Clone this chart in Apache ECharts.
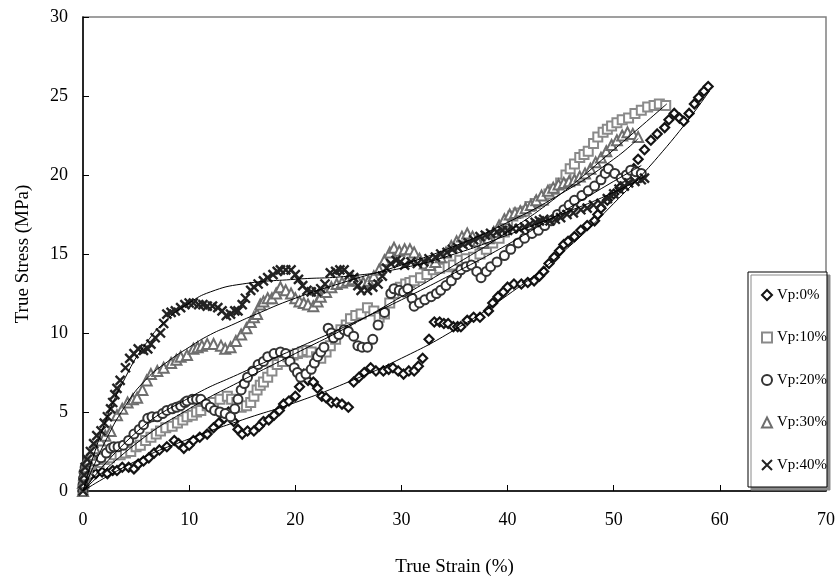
<!DOCTYPE html>
<html>
<head>
<meta charset="utf-8">
<script src="https://cdn.jsdelivr.net/npm/echarts@6/dist/echarts.min.js"></script>
<style>
html,body{margin:0;padding:0;background:#fff;}
#c{width:840px;height:581px;}
</style>
</head>
<body>
<div id="c"></div>
<script>
var seriesNames = ['Vp:0%', 'Vp:10%', 'Vp:20%', 'Vp:30%', 'Vp:40%'];
var xTicks = [0, 10, 20, 30, 40, 50, 60, 70];
var yTicks = [0, 5, 10, 15, 20, 25, 30];

var vp0 = [[0,0],[0.1,0.3],[0.2,0.6],[0.4,0.9],[0.7,1.0],[1.2,1.1],[1.8,1.2],[2.3,1.1],[2.8,1.3],[3.2,1.3],[3.7,1.5],[4.3,1.5],[4.8,1.4],[5.2,1.7],[5.7,1.9],[6.2,2.1],[6.7,2.4],[7.2,2.6],[7.9,2.8],[8.6,3.2],[9.0,3.0],[9.5,2.7],[10.0,2.9],[10.4,3.2],[11.0,3.4],[11.7,3.6],[12.3,4.0],[12.8,4.3],[13.3,4.6],[13.7,5.0],[14.2,4.4],[14.6,3.9],[15.0,3.6],[15.5,3.8],[16.1,3.8],[16.6,4.1],[17.0,4.4],[17.5,4.5],[18.0,4.8],[18.5,5.1],[18.9,5.5],[19.4,5.7],[20.0,6.0],[20.4,6.6],[20.8,7.4],[21.2,7.0],[21.7,6.9],[22.1,6.5],[22.5,6.0],[22.9,5.9],[23.4,5.6],[23.9,5.6],[24.4,5.5],[25.0,5.3],[25.5,6.9],[26.0,7.2],[26.5,7.5],[27.1,7.8],[27.6,7.6],[28.3,7.6],[28.8,7.7],[29.2,7.8],[29.7,7.6],[30.2,7.4],[30.7,7.6],[31.2,7.6],[31.6,7.9],[32.0,8.4],[32.6,9.6],[33.1,10.7],[33.6,10.7],[34.0,10.6],[34.4,10.6],[34.9,10.4],[35.3,10.4],[35.6,10.4],[36.2,10.8],[36.8,11.0],[37.4,11.0],[38.2,11.4],[38.6,11.9],[39.1,12.3],[39.6,12.6],[40.0,12.9],[40.6,13.1],[41.3,13.1],[41.9,13.2],[42.5,13.3],[43.0,13.6],[43.4,13.9],[43.9,14.4],[44.4,14.8],[44.9,15.2],[45.3,15.6],[45.7,15.8],[46.3,16.1],[46.9,16.5],[47.5,16.8],[48.2,17.1],[48.5,17.5],[48.8,17.9],[49.4,18.4],[50.0,18.8],[50.6,19.2],[51.0,19.5],[51.4,19.7],[51.9,20.4],[52.3,21.0],[52.9,21.6],[53.5,22.2],[54.1,22.6],[54.8,23.0],[55.2,23.5],[55.7,23.9],[56.2,23.6],[56.6,23.4],[57.1,23.9],[57.6,24.5],[58.0,24.9],[58.5,25.3],[58.9,25.6]];

var vp10 = [[0,0],[0.1,0.5],[0.2,1.0],[0.4,1.4],[0.7,1.7],[1.0,1.9],[1.5,1.8],[2.0,2.0],[2.5,2.1],[3.0,2.3],[3.5,2.3],[4.0,2.4],[4.5,2.5],[5.0,2.8],[5.4,2.9],[5.9,3.2],[6.4,3.4],[6.9,3.6],[7.3,3.8],[7.8,4.0],[8.4,4.1],[8.9,4.3],[9.4,4.5],[9.8,4.7],[10.3,4.8],[10.7,5.0],[11.1,5.1],[11.7,5.4],[12.3,5.6],[12.9,5.8],[13.6,6.0],[14.0,5.8],[14.5,5.6],[14.9,5.3],[15.4,5.4],[15.8,5.6],[16.1,6.0],[16.4,6.4],[16.7,6.7],[17.0,6.9],[17.4,7.2],[17.8,7.6],[18.3,8.0],[18.8,8.2],[19.3,8.5],[19.8,8.6],[20.2,8.7],[20.7,8.8],[21.1,8.9],[21.5,8.8],[22.0,8.5],[22.4,8.4],[22.9,8.8],[23.3,9.2],[23.8,9.6],[24.3,10.2],[24.8,10.5],[25.2,10.9],[25.7,11.1],[26.2,11.2],[26.8,11.6],[27.4,11.4],[27.9,11.0],[28.4,11.2],[28.9,11.9],[29.3,12.5],[29.9,12.9],[30.4,13.1],[30.8,13.2],[31.2,13.3],[31.8,13.5],[32.4,13.7],[33.0,14.0],[33.6,14.1],[34.4,14.2],[34.9,14.3],[35.5,14.6],[36.1,14.7],[36.8,14.8],[37.4,15.0],[38.0,15.3],[38.6,15.7],[39.2,16.0],[39.7,16.4],[40.0,17.0],[40.5,17.4],[41.0,17.6],[41.6,17.7],[42.1,18.0],[42.6,18.2],[43.0,18.3],[43.4,18.4],[43.9,18.8],[44.4,19.1],[45.0,19.5],[45.5,20.0],[45.9,20.4],[46.3,20.7],[46.8,21.1],[47.2,21.3],[47.6,21.5],[48.1,22.0],[48.5,22.4],[49.0,22.7],[49.4,22.9],[49.8,23.1],[50.3,23.3],[50.8,23.5],[51.4,23.6],[52.0,23.9],[52.6,24.1],[53.2,24.3],[53.8,24.4],[54.3,24.5],[54.9,24.4]];

var vp20 = [[0,0],[0,0.4],[0.05,0.8],[0.1,1.2],[0.2,1.5],[0.4,1.8],[0.8,2.0],[1.2,1.9],[1.7,2.1],[2.2,2.4],[2.6,2.7],[2.9,2.8],[3.3,2.8],[3.8,2.9],[4.3,3.2],[4.8,3.6],[5.3,3.9],[5.7,4.2],[6.1,4.6],[6.5,4.7],[7.0,4.7],[7.5,4.9],[7.9,5.1],[8.4,5.2],[8.8,5.3],[9.2,5.4],[9.6,5.6],[9.8,5.7],[10.3,5.8],[10.7,5.8],[11.1,5.8],[11.6,5.5],[12.0,5.3],[12.4,5.1],[12.9,5.0],[13.4,4.9],[13.9,4.7],[14.3,5.2],[14.6,5.8],[14.9,6.4],[15.2,6.8],[15.5,7.2],[16.0,7.6],[16.5,8.0],[17.0,8.2],[17.4,8.5],[18.0,8.7],[18.6,8.8],[19.1,8.7],[19.5,8.2],[19.9,7.8],[20.2,7.5],[20.5,7.2],[21.0,7.4],[21.5,7.7],[21.8,8.1],[22.1,8.5],[22.4,8.8],[22.7,9.1],[23.1,10.3],[23.4,10.0],[23.6,9.7],[24.1,9.9],[24.6,10.2],[25.0,10.1],[25.5,9.8],[25.9,9.2],[26.3,9.1],[26.8,9.1],[27.3,9.6],[27.8,10.5],[28.4,11.3],[29.0,12.5],[29.3,12.8],[29.8,12.7],[30.2,12.6],[30.6,12.8],[31.0,12.2],[31.2,11.7],[31.7,11.9],[32.2,12.1],[32.8,12.3],[33.3,12.5],[33.7,12.7],[34.2,13.0],[34.7,13.3],[35.2,13.7],[35.6,14.0],[36.1,14.2],[36.6,14.3],[37.1,13.9],[37.5,13.5],[38.0,13.9],[38.4,14.2],[39.0,14.5],[39.7,14.9],[40.3,15.3],[41.0,15.7],[41.6,16.0],[42.3,16.3],[42.9,16.5],[43.5,16.8],[44.1,17.1],[44.7,17.5],[45.3,17.8],[45.8,18.1],[46.3,18.4],[47.0,18.7],[47.6,19.0],[48.2,19.3],[48.8,19.7],[49.2,20.1],[49.5,20.4],[50.1,20.1],[50.7,19.8],[51.2,20.0],[51.6,20.3],[52.1,20.2],[52.6,20.1]];

var vp30 = [[0,0],[0,0.5],[0.1,1.0],[0.2,1.5],[0.4,2.0],[0.7,2.3],[1.1,2.7],[1.6,3.2],[2.1,3.5],[2.6,3.8],[3.2,4.8],[3.7,5.2],[4.2,5.6],[4.7,5.8],[5.1,5.9],[5.6,6.4],[6.0,7.0],[6.4,7.4],[7.0,7.6],[7.6,7.8],[8.3,8.1],[8.8,8.3],[9.2,8.5],[9.8,8.6],[10.4,9.0],[10.8,9.1],[11.2,9.2],[11.7,9.3],[12.3,9.3],[13.0,9.2],[13.4,9.0],[13.9,9.1],[14.4,9.5],[14.9,9.9],[15.4,10.3],[15.8,10.7],[16.1,11.0],[16.4,11.2],[16.7,11.8],[17.0,12.0],[17.4,12.2],[17.8,12.2],[18.2,12.5],[18.6,12.9],[19.1,12.7],[19.6,12.5],[20.0,12.2],[20.4,12.0],[20.8,11.9],[21.2,11.8],[21.7,11.7],[22.1,12.0],[22.4,12.3],[22.9,12.6],[23.4,12.9],[23.9,13.1],[24.4,13.2],[24.9,13.3],[25.4,13.4],[25.9,13.3],[26.4,13.2],[26.9,13.3],[27.4,13.6],[27.9,14.0],[28.4,14.6],[28.9,15.1],[29.3,15.4],[29.8,15.2],[30.3,15.3],[30.8,15.3],[31.2,15.1],[31.7,14.7],[32.2,14.4],[32.7,14.3],[33.2,14.5],[33.7,14.8],[34.2,15.1],[34.7,15.5],[35.2,15.8],[35.7,16.1],[36.2,16.3],[36.7,16.1],[37.2,15.8],[37.7,15.7],[38.2,16.0],[38.7,16.4],[39.2,16.8],[39.7,17.2],[40.2,17.5],[40.7,17.6],[41.2,17.7],[41.7,17.9],[42.2,18.1],[42.7,18.4],[43.2,18.7],[43.8,19.0],[44.3,19.2],[44.8,19.4],[45.3,19.5],[45.8,19.6],[46.3,19.7],[46.8,19.9],[47.3,20.1],[47.8,20.4],[48.3,20.8],[48.8,21.1],[49.3,21.5],[49.8,21.9],[50.3,22.2],[50.8,22.5],[51.3,22.7],[51.8,22.6],[52.3,22.4]];

var vp40 = [[0,0],[0.05,0.5],[0.1,1.0],[0.2,1.5],[0.4,2.0],[0.7,2.5],[1.0,3.0],[1.3,3.5],[1.7,3.8],[2.0,4.3],[2.3,4.7],[2.6,5.2],[2.8,5.6],[3.0,6.1],[3.2,6.5],[3.5,7.0],[4.0,7.8],[4.4,8.4],[4.8,8.7],[5.2,9.0],[5.7,8.9],[6.1,9.0],[6.4,9.3],[6.8,9.7],[7.3,10.0],[7.6,10.6],[7.9,11.2],[8.3,11.3],[8.7,11.4],[9.2,11.6],[9.6,11.8],[10.0,11.9],[10.4,11.9],[10.9,11.8],[11.3,11.8],[11.7,11.7],[12.2,11.7],[12.7,11.6],[13.1,11.4],[13.5,11.1],[13.9,11.2],[14.3,11.4],[14.6,11.4],[15.0,11.8],[15.3,12.2],[15.8,12.7],[16.1,12.9],[16.5,13.1],[17.0,13.3],[17.4,13.5],[17.9,13.7],[18.3,13.9],[18.6,14.0],[19.1,14.0],[19.6,14.0],[20.0,13.7],[20.3,13.4],[20.7,13.0],[21.1,12.7],[21.5,12.6],[22.0,12.6],[22.4,12.8],[22.8,13.1],[23.3,13.8],[23.8,13.9],[24.2,14.0],[24.6,14.0],[25.1,13.7],[25.5,13.5],[25.9,13.0],[26.2,12.7],[26.8,12.7],[27.3,12.9],[27.8,13.1],[28.2,13.6],[28.6,14.1],[29.0,14.4],[29.5,14.6],[29.9,14.5],[30.3,14.3],[30.9,14.5],[31.5,14.4],[32.1,14.5],[32.6,14.7],[33.2,14.8],[33.7,15.0],[34.3,15.1],[34.8,15.3],[35.3,15.4],[35.8,15.6],[36.3,15.7],[36.8,15.9],[37.4,16.1],[37.9,16.2],[38.4,16.3],[39.0,16.4],[39.5,16.5],[40.0,16.5],[40.5,16.6],[41.1,16.6],[41.6,16.7],[42.1,16.9],[42.6,17.0],[43.0,17.1],[43.4,17.2],[44.0,17.1],[44.5,17.2],[45.0,17.3],[45.6,17.5],[46.2,17.6],[46.9,17.8],[47.5,17.9],[48.1,18.1],[48.8,18.2],[49.4,18.5],[50.0,18.8],[50.5,19.1],[51.0,19.3],[51.4,19.5],[52.0,19.6],[52.6,19.7],[52.9,19.8]];

// trend lines
var trend0 = [[0,0],[5,1.9],[10,3.3],[15,4.5],[20,5.6],[25,6.9],[30,8.4],[35,10.2],[40,12.4],[45,15.0],[50,18.2],[55,21.8],[59,25.3]];
var trend10 = [[0,0],[5,3.0],[10,5.2],[15,7.0],[20,8.7],[25,10.4],[30,12.3],[35,14.3],[40,16.4],[45,18.8],[50,21.6],[55,24.5]];
var trend20 = [[0,0],[5,3.7],[10,5.9],[15,7.5],[20,9.0],[25,10.5],[30,12.1],[35,13.8],[40,15.6],[45,17.6],[50,19.6],[52.6,20.6]];
var trend30 = [[0,0],[2,3.0],[4,5.4],[6,7.1],[8,8.2],[10,9.1],[12,9.9],[14,10.5],[16,11.1],[20,12.2],[25,13.3],[30,14.3],[35,15.5],[40,17.0],[45,18.8],[50,21.0],[52.3,22.3]];
var trend40 = [[0,0],[2,4.2],[4,7.2],[6,9.4],[8,10.9],[10,11.9],[12,12.6],[15,13.1],[20,13.4],[25,13.6],[30,14.1],[35,15.0],[40,16.2],[45,17.5],[50,18.9],[52.9,19.9]];

var dataSets = [vp0, vp10, vp20, vp30, vp40];
var trends = [trend0, trend10, trend20, trend30, trend40];
var colors = ['#141414', '#8a8a8a', '#333333', '#6e6e6e', '#222222'];
var symbols = ['diamond', 'rect', 'circle', 'triangle', 'path://M0,0L10,10M10,0L0,10'];
var sizes = [9, 9, 9, 10, 9];
var bws = [2.2, 2, 2, 2, 2.4];

var FONT = '"Liberation Serif", "Times New Roman", serif';
var series = [];
for (var i = 0; i < 5; i++) {
  series.push({
    name: seriesNames[i],
    type: 'scatter',
    data: dataSets[i],
    symbol: symbols[i],
    symbolSize: sizes[i],
    itemStyle: { color: '#ffffff', borderColor: colors[i], borderWidth: bws[i], opacity: 1 },
    z: 2 + i,
    silent: true
  });
}
for (var j = 0; j < 5; j++) {
  series.push({
    type: 'line',
    data: trends[j],
    smooth: 0.5,
    showSymbol: false,
    symbol: 'none',
    lineStyle: { color: '#000', width: 1 },
    z: 10,
    silent: true
  });
}

var chart = echarts.init(document.getElementById('c'), null, { renderer: 'canvas' });
chart.setOption({
  animation: false,
  backgroundColor: '#ffffff',
  grid: { left: 83, right: 14, top: 17, bottom: 90, show: true, borderColor: '#808080', borderWidth: 1.5, containLabel: false, outerBoundsMode: 'none' },
  legend: {
    data: seriesNames,
    orient: 'vertical',
    left: 748, top: 272,
    padding: [15, 0, 14, 13],
    itemWidth: 10, itemHeight: 10, itemGap: 26.5,
    backgroundColor: '#ffffff',
    borderColor: '#000', borderWidth: 1,
    shadowColor: '#8a8a8a', shadowBlur: 0, shadowOffsetX: 3, shadowOffsetY: 3,
    textStyle: { fontFamily: FONT, fontSize: 15, color: '#000', lineHeight: 16 },
    selectedMode: false
  },
  xAxis: {
    type: 'value', min: 0, max: 70, interval: 10,
    name: 'True Strain (%)', nameLocation: 'middle', nameGap: 67,
    nameTextStyle: { fontFamily: FONT, fontSize: 19, color: '#000' },
    axisLine: { show: true, lineStyle: { color: '#000', width: 1.5 } },
    axisTick: { show: true, inside: true, length: 6, lineStyle: { color: '#000', width: 1 } },
    axisLabel: { fontFamily: FONT, fontSize: 18, color: '#000', margin: 20, formatter: function (v) { return xTicks.indexOf(v) >= 0 ? String(v) : ''; } },
    splitLine: { show: false }
  },
  yAxis: {
    type: 'value', min: 0, max: 30, interval: 5,
    name: 'True Stress (MPa)', nameLocation: 'middle', nameGap: 50, nameRotate: 90,
    nameTextStyle: { fontFamily: FONT, fontSize: 19, color: '#000' },
    axisLine: { show: true, lineStyle: { color: '#000', width: 1.5 } },
    axisTick: { show: true, inside: true, length: 6, lineStyle: { color: '#000', width: 1 } },
    axisLabel: { fontFamily: FONT, fontSize: 18, color: '#000', margin: 15, formatter: function (v) { return yTicks.indexOf(v) >= 0 ? String(v) : ''; } },
    splitLine: { show: false }
  },
  series: series
});
</script>
</body>
</html>
